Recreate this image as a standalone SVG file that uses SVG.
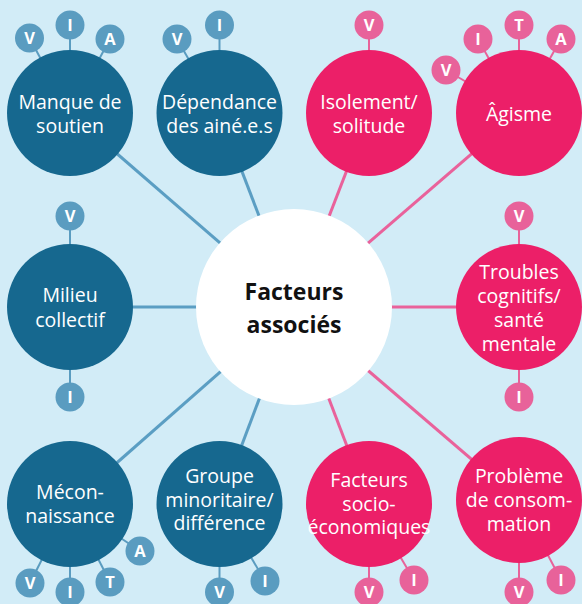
<svg xmlns="http://www.w3.org/2000/svg" width="582" height="604" viewBox="0 0 582 604">
<style>
.bg{fill:#d2ecf7}
.cb{stroke:#5b9ec3;stroke-width:3}
.cp{stroke:#e9629b;stroke-width:3}
.nb{fill:#16688f}
.np{fill:#ec1f68}
.sb{stroke:#5a9cc0;stroke-width:2}
.sp{stroke:#e8629a;stroke-width:2}
.bb{fill:#5a9cc0}
.bp{fill:#e8629a}
.t{font-family:"Open Sans","Noto Sans",sans-serif;font-size:19.5px;fill:#fff;text-anchor:middle}
.bt{font-family:"Open Sans","Noto Sans",sans-serif;font-size:16.5px;font-weight:bold;fill:#fff;text-anchor:middle}
.ct{font-family:"Open Sans","Noto Sans",sans-serif;font-size:23px;font-weight:bold;fill:#111;text-anchor:middle}
</style>
<defs>
<circle id="b" r="14.5"/>
</defs>
<rect class="bg" width="582" height="604"/>
<g id="connectors">
<line class="cb" x1="294" y1="307" x2="70" y2="113"/>
<line class="cb" x1="294" y1="307" x2="219.5" y2="113"/>
<line class="cp" x1="294" y1="307" x2="369" y2="113"/>
<line class="cp" x1="294" y1="307" x2="519" y2="113"/>
<line class="cb" x1="294" y1="307" x2="70" y2="307"/>
<line class="cp" x1="294" y1="307" x2="519" y2="307"/>
<line class="cb" x1="294" y1="307" x2="70" y2="504"/>
<line class="cb" x1="294" y1="307" x2="219.5" y2="504"/>
<line class="cp" x1="294" y1="307" x2="369" y2="504"/>
<line class="cp" x1="294" y1="307" x2="519" y2="500"/>
</g>
<g id="center">
<circle cx="294" cy="307" r="98" fill="#fff"/>
<text class="ct" x="294" y="300">Facteurs</text>
<text class="ct" x="294" y="333">associés</text>
</g>
<g id="manque">
<line class="sb" x1="70" y1="113" x2="29.5" y2="38"/>
<line class="sb" x1="70" y1="113" x2="70" y2="25"/>
<line class="sb" x1="70" y1="113" x2="110" y2="39"/>
<circle class="nb" cx="70" cy="113" r="63"/>
<use href="#b" class="bb" x="29.5" y="38"/><text class="bt" x="29.5" y="44">V</text>
<use href="#b" class="bb" x="70" y="25"/><text class="bt" x="70" y="31">I</text>
<use href="#b" class="bb" x="110" y="39"/><text class="bt" x="110" y="45">A</text>
<text class="t" x="70" y="109">Manque de</text>
<text class="t" x="70" y="133">soutien</text>
</g>
<g id="dependance">
<line class="sb" x1="219.5" y1="113" x2="177" y2="39"/>
<line class="sb" x1="219.5" y1="113" x2="219.5" y2="25"/>
<circle class="nb" cx="219.5" cy="113" r="63"/>
<use href="#b" class="bb" x="177" y="39"/><text class="bt" x="177" y="45">V</text>
<use href="#b" class="bb" x="219.5" y="25"/><text class="bt" x="219.5" y="31">I</text>
<text class="t" x="219.5" y="109">Dépendance</text>
<text class="t" x="219.5" y="133">des ainé.e.s</text>
</g>
<g id="isolement">
<line class="sp" x1="369" y1="113" x2="369" y2="25"/>
<circle class="np" cx="369" cy="113" r="63"/>
<use href="#b" class="bp" x="369" y="25"/><text class="bt" x="369" y="31">V</text>
<text class="t" x="369" y="109">Isolement/</text>
<text class="t" x="369" y="133">solitude</text>
</g>
<g id="agisme">
<line class="sp" x1="519" y1="113" x2="446" y2="70"/>
<line class="sp" x1="519" y1="113" x2="478" y2="39"/>
<line class="sp" x1="519" y1="113" x2="519" y2="25"/>
<line class="sp" x1="519" y1="113" x2="561" y2="39"/>
<circle class="np" cx="519" cy="113" r="63"/>
<use href="#b" class="bp" x="446" y="70"/><text class="bt" x="446" y="76">V</text>
<use href="#b" class="bp" x="478" y="39"/><text class="bt" x="478" y="45">I</text>
<use href="#b" class="bp" x="519" y="25"/><text class="bt" x="519" y="31">T</text>
<use href="#b" class="bp" x="561" y="39"/><text class="bt" x="561" y="45">A</text>
<text class="t" x="519" y="121">Âgisme</text>
</g>
<g id="milieu">
<line class="sb" x1="70" y1="216" x2="70" y2="397"/>
<circle class="nb" cx="70" cy="307" r="63"/>
<use href="#b" class="bb" x="70" y="216"/><text class="bt" x="70" y="222">V</text>
<use href="#b" class="bb" x="70" y="397"/><text class="bt" x="70" y="403">I</text>
<text class="t" x="70" y="302">Milieu</text>
<text class="t" x="70" y="327">collectif</text>
</g>
<g id="troubles">
<line class="sp" x1="519" y1="216" x2="519" y2="397"/>
<circle class="np" cx="519" cy="307" r="63"/>
<use href="#b" class="bp" x="519" y="216"/><text class="bt" x="519" y="222">V</text>
<use href="#b" class="bp" x="519" y="397"/><text class="bt" x="519" y="403">I</text>
<text class="t" x="519" y="279">Troubles</text>
<text class="t" x="519" y="303">cognitifs/</text>
<text class="t" x="519" y="327">santé</text>
<text class="t" x="519" y="351">mentale</text>
</g>
<g id="meconnaissance">
<line class="sb" x1="70" y1="504" x2="30" y2="583"/>
<line class="sb" x1="70" y1="504" x2="70" y2="592"/>
<line class="sb" x1="70" y1="504" x2="110" y2="582"/>
<line class="sb" x1="70" y1="504" x2="140" y2="551"/>
<circle class="nb" cx="70" cy="504" r="63"/>
<use href="#b" class="bb" x="30" y="583"/><text class="bt" x="30" y="589">V</text>
<use href="#b" class="bb" x="70" y="592"/><text class="bt" x="70" y="598">I</text>
<use href="#b" class="bb" x="110" y="582"/><text class="bt" x="110" y="588">T</text>
<use href="#b" class="bb" x="140" y="551"/><text class="bt" x="140" y="557">A</text>
<text class="t" x="70" y="499">Mécon-</text>
<text class="t" x="70" y="523">naissance</text>
</g>
<g id="groupe">
<line class="sb" x1="219.5" y1="504" x2="219.5" y2="592"/>
<line class="sb" x1="219.5" y1="504" x2="265" y2="581"/>
<circle class="nb" cx="219.5" cy="504" r="63"/>
<use href="#b" class="bb" x="219.5" y="592"/><text class="bt" x="219.5" y="598">V</text>
<use href="#b" class="bb" x="265" y="581"/><text class="bt" x="265" y="587">I</text>
<text class="t" x="219.5" y="483">Groupe</text>
<text class="t" x="219.5" y="507">minoritaire/</text>
<text class="t" x="219.5" y="530">différence</text>
</g>
<g id="socio">
<line class="sp" x1="369" y1="504" x2="369" y2="592"/>
<line class="sp" x1="369" y1="504" x2="414" y2="580"/>
<circle class="np" cx="369" cy="504" r="63"/>
<use href="#b" class="bp" x="369" y="592"/><text class="bt" x="369" y="598">V</text>
<use href="#b" class="bp" x="414" y="580"/><text class="bt" x="414" y="586">I</text>
<text class="t" x="369" y="487">Facteurs</text>
<text class="t" x="369" y="511">socio-</text>
<text class="t" x="369" y="534">économiques</text>
</g>
<g id="probleme">
<line class="sp" x1="519" y1="500" x2="519" y2="592"/>
<line class="sp" x1="519" y1="500" x2="561" y2="580"/>
<circle class="np" cx="519" cy="500" r="63"/>
<use href="#b" class="bp" x="519" y="592"/><text class="bt" x="519" y="598">V</text>
<use href="#b" class="bp" x="561" y="580"/><text class="bt" x="561" y="586">I</text>
<text class="t" x="519" y="483">Problème</text>
<text class="t" x="519" y="507">de consom-</text>
<text class="t" x="519" y="531">mation</text>
</g>
</svg>
